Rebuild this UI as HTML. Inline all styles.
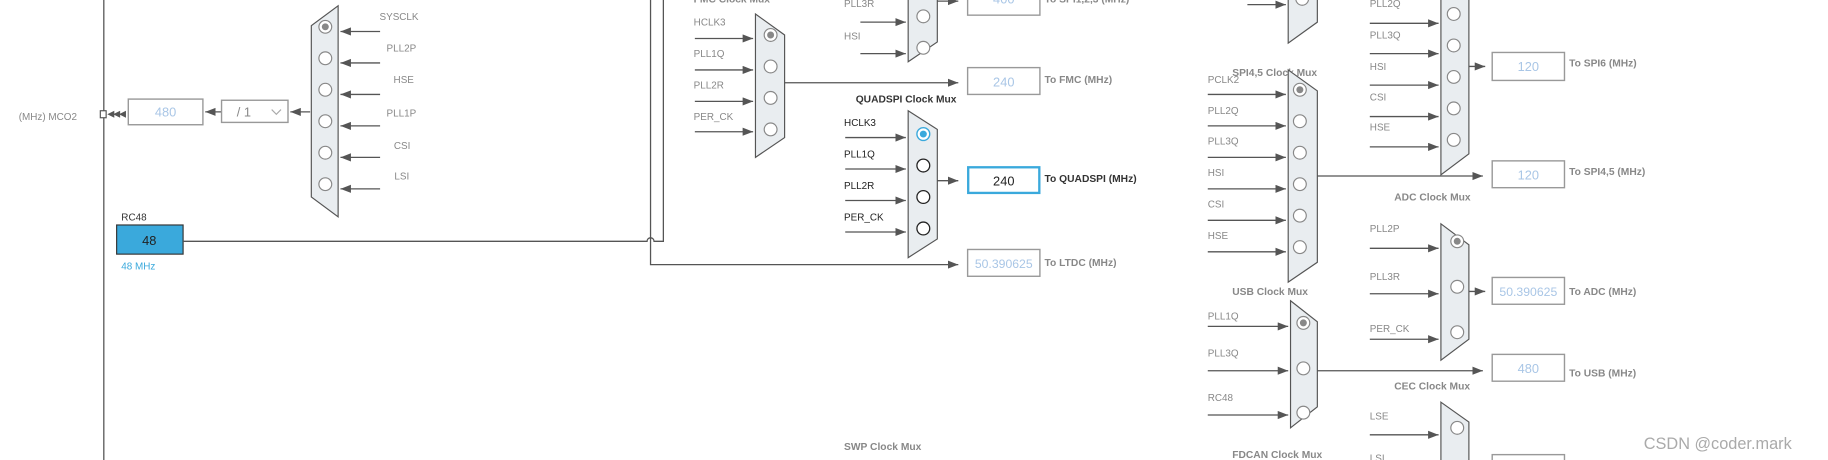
<!DOCTYPE html>
<html><head><meta charset="utf-8"><style>
html,body{margin:0;padding:0;background:#fff;overflow:hidden}
svg{display:block}
.l{font-family:"Liberation Sans",sans-serif;font-size:8.5px;fill:#888}
.d{font-family:"Liberation Sans",sans-serif;font-size:8.5px;fill:#222}
.t{font-family:"Liberation Sans",sans-serif;font-size:8.8px;font-weight:bold;fill:#888}
.td{font-family:"Liberation Sans",sans-serif;font-size:8.8px;font-weight:bold;fill:#333}
.v{font-family:"Liberation Sans",sans-serif;font-size:11px;fill:#a9c6e6}
.ln{stroke:#555;stroke-width:1.1;fill:none}
.mx{fill:#e9edf0;stroke:#555;stroke-width:1}
.c{fill:#fff;stroke:#888;stroke-width:1}
.cd{fill:#fff;stroke:#222;stroke-width:1.1}
.bx{fill:#fff;stroke:#999;stroke-width:1.2}
</style></head><body>
<svg width="1828" height="460" viewBox="0 0 1568 394.6" xmlns="http://www.w3.org/2000/svg">
<defs><marker id="a" markerUnits="userSpaceOnUse" markerWidth="10" markerHeight="8" refX="9" refY="3.5" orient="auto"><path d="M0,0L9,3.5L0,7z" fill="#555"/></marker></defs>

<line class="ln" x1="89" y1="0" x2="89" y2="395"/>
<text class="l" x="16" y="103">(MHz) MCO2</text>
<rect x="86" y="95" width="5" height="6" fill="#fff" stroke="#555"/>
<path d="M92,98L98,95V101zM97,98L103,95V101zM102,98L108,95V101z" fill="#555"/>
<rect class="bx" x="110" y="85" width="64" height="22"/>
<text class="v" x="142" y="100" text-anchor="middle">480</text>
<line class="ln" x1="190" y1="96" x2="176" y2="96" marker-end="url(#a)"/>
<rect class="bx" x="190" y="86" width="57" height="19"/>
<text class="l" x="203" y="100" style="font-size:11px">/ 1</text>
<path d="M233,94L237,98L241,94" stroke="#aaa" fill="none"/>
<line class="ln" x1="266" y1="96" x2="249" y2="96" marker-end="url(#a)"/>
<path class="mx" d="M290,5V186L267,169V22z"/>
<circle class="c" cx="279" cy="23" r="5.5"/><circle cx="279" cy="23" r="3" fill="#888"/>
<circle class="c" cx="279" cy="50" r="5.5"/><circle class="c" cx="279" cy="77" r="5.5"/>
<circle class="c" cx="279" cy="104" r="5.5"/><circle class="c" cx="279" cy="131" r="5.5"/>
<circle class="c" cx="279" cy="158" r="5.5"/>
<line class="ln" x1="326" y1="27" x2="292" y2="27" marker-end="url(#a)"/>
<line class="ln" x1="326" y1="54" x2="292" y2="54" marker-end="url(#a)"/>
<line class="ln" x1="326" y1="81" x2="292" y2="81" marker-end="url(#a)"/>
<line class="ln" x1="326" y1="108" x2="292" y2="108" marker-end="url(#a)"/>
<line class="ln" x1="326" y1="135" x2="292" y2="135" marker-end="url(#a)"/>
<line class="ln" x1="326" y1="162" x2="292" y2="162" marker-end="url(#a)"/>
<text class="l" x="359" y="17" text-anchor="end">SYSCLK</text>
<text class="l" x="357" y="44" text-anchor="end">PLL2P</text>
<text class="l" x="355" y="71" text-anchor="end">HSE</text>
<text class="l" x="357" y="100" text-anchor="end">PLL1P</text>
<text class="l" x="352" y="128" text-anchor="end">CSI</text>
<text class="l" x="351" y="154" text-anchor="end">LSI</text>
<text class="d" x="104" y="189" style="fill:#333">RC48</text>
<rect x="100" y="193" width="57" height="25" fill="#3aa9dc" stroke="#333"/>
<text x="128" y="210" text-anchor="middle" style="font-family:'Liberation Sans',sans-serif;font-size:11px;fill:#222">48</text>
<text x="104" y="231" style="font-family:'Liberation Sans',sans-serif;font-size:8.5px;fill:#3aa9dc">48 MHz</text>
<path class="ln" d="M157,207H555A3,3 0 0 1 561,207H569V0"/>
<path class="ln" d="M558,0V227H822" marker-end="url(#a)"/>
<text class="t" x="595" y="2">FMC Clock Mux</text>
<path class="mx" d="M648,12L673,30V118L648,135z"/>
<circle class="c" cx="661" cy="30" r="5.5"/><circle cx="661" cy="30" r="3" fill="#888"/>
<circle class="c" cx="661" cy="57" r="5.5"/><circle class="c" cx="661" cy="84" r="5.5"/><circle class="c" cx="661" cy="111" r="5.5"/>
<line class="ln" x1="596" y1="33" x2="646" y2="33" marker-end="url(#a)"/>
<line class="ln" x1="596" y1="60" x2="646" y2="60" marker-end="url(#a)"/>
<line class="ln" x1="596" y1="87" x2="646" y2="87" marker-end="url(#a)"/>
<line class="ln" x1="596" y1="113" x2="646" y2="113" marker-end="url(#a)"/>
<text class="l" x="595" y="22">HCLK3</text><text class="l" x="595" y="49">PLL1Q</text>
<text class="l" x="595" y="76">PLL2R</text><text class="l" x="595" y="103">PER_CK</text>
<line class="ln" x1="673" y1="71" x2="822" y2="71" marker-end="url(#a)"/>
<rect class="bx" x="830" y="58" width="62" height="23"/>
<text class="v" x="861" y="74" text-anchor="middle">240</text>
<text class="t" x="896" y="71">To FMC (MHz)</text>
<path class="mx" d="M779,-10H804V36L779,53z"/>
<circle class="c" cx="792" cy="14" r="5.5"/><circle class="c" cx="792" cy="41" r="5.5"/>
<line class="ln" x1="738" y1="19" x2="777" y2="19" marker-end="url(#a)"/>
<line class="ln" x1="738" y1="46" x2="777" y2="46" marker-end="url(#a)"/>
<text class="l" x="724" y="6">PLL3R</text><text class="l" x="724" y="34">HSI</text>
<line class="ln" x1="804" y1="1" x2="822" y2="1" marker-end="url(#a)"/>
<rect class="bx" x="830" y="-10" width="62" height="23"/>
<text class="v" x="861" y="3" text-anchor="middle">400</text>
<text class="t" x="896" y="2">To SPI1,2,3 (MHz)</text>
<text class="td" x="734" y="88">QUADSPI Clock Mux</text>
<path class="mx" d="M779,95L804,111V205L779,221z"/>
<circle cx="792" cy="115" r="5.5" fill="#fff" stroke="#3aa9dc" stroke-width="1.2"/><circle cx="792" cy="115" r="3" fill="#3aa9dc"/>
<circle class="cd" cx="792" cy="142" r="5.5"/><circle class="cd" cx="792" cy="169" r="5.5"/><circle class="cd" cx="792" cy="196" r="5.5"/>
<line class="ln" x1="725" y1="118" x2="777" y2="118" marker-end="url(#a)"/>
<line class="ln" x1="725" y1="145" x2="777" y2="145" marker-end="url(#a)"/>
<line class="ln" x1="725" y1="172" x2="777" y2="172" marker-end="url(#a)"/>
<line class="ln" x1="725" y1="199" x2="777" y2="199" marker-end="url(#a)"/>
<text class="d" x="724" y="108">HCLK3</text><text class="d" x="724" y="135">PLL1Q</text>
<text class="d" x="724" y="162">PLL2R</text><text class="d" x="724" y="189">PER_CK</text>
<line class="ln" x1="804" y1="155" x2="822" y2="155" marker-end="url(#a)"/>
<rect x="830.5" y="143.5" width="61" height="22" fill="#fff" stroke="#3aa9dc" stroke-width="2"/>
<text x="861" y="159" text-anchor="middle" style="font-family:'Liberation Sans',sans-serif;font-size:11px;fill:#222">240</text>
<text class="td" x="896" y="156">To QUADSPI (MHz)</text>
<rect class="bx" x="830" y="214" width="62" height="23"/>
<text class="v" x="861" y="230" text-anchor="middle" style="font-size:10.5px">50.390625</text>
<text class="t" x="896" y="228">To LTDC (MHz)</text>
<text class="t" x="724" y="386">SWP Clock Mux</text>

<path class="mx" d="M1105,-10H1130V19L1105,37z"/>
<circle class="c" cx="1117" cy="-1" r="5.5"/>
<line class="ln" x1="1070" y1="4" x2="1103" y2="4" marker-end="url(#a)"/>
<text class="t" x="1057" y="65">SPI4,5 Clock Mux</text>
<path class="mx" d="M1105,60L1130,78V225L1105,242z"/>
<circle class="c" cx="1115" cy="77" r="5.5"/><circle cx="1115" cy="77" r="3" fill="#888"/>
<circle class="c" cx="1115" cy="104" r="5.5"/><circle class="c" cx="1115" cy="131" r="5.5"/>
<circle class="c" cx="1115" cy="158" r="5.5"/><circle class="c" cx="1115" cy="185" r="5.5"/><circle class="c" cx="1115" cy="212" r="5.5"/>
<line class="ln" x1="1036" y1="81" x2="1103" y2="81" marker-end="url(#a)"/>
<line class="ln" x1="1036" y1="108" x2="1103" y2="108" marker-end="url(#a)"/>
<line class="ln" x1="1036" y1="135" x2="1103" y2="135" marker-end="url(#a)"/>
<line class="ln" x1="1036" y1="162" x2="1103" y2="162" marker-end="url(#a)"/>
<line class="ln" x1="1036" y1="189" x2="1103" y2="189" marker-end="url(#a)"/>
<line class="ln" x1="1036" y1="216" x2="1103" y2="216" marker-end="url(#a)"/>
<text class="l" x="1036" y="71">PCLK2</text><text class="l" x="1036" y="98">PLL2Q</text>
<text class="l" x="1036" y="124">PLL3Q</text><text class="l" x="1036" y="151">HSI</text>
<text class="l" x="1036" y="178">CSI</text><text class="l" x="1036" y="205">HSE</text>
<line class="ln" x1="1130" y1="151" x2="1272" y2="151" marker-end="url(#a)"/>
<rect class="bx" x="1280" y="138" width="62" height="23"/>
<text class="v" x="1311" y="154" text-anchor="middle">120</text>
<text class="t" x="1346" y="150">To SPI4,5 (MHz)</text>
<text class="t" x="1057" y="253">USB Clock Mux</text>
<path class="mx" d="M1236,-10H1260V132L1236,150z"/>
<circle class="c" cx="1247" cy="12" r="5.5"/><circle class="c" cx="1247" cy="39" r="5.5"/>
<circle class="c" cx="1247" cy="66" r="5.5"/><circle class="c" cx="1247" cy="93" r="5.5"/><circle class="c" cx="1247" cy="120" r="5.5"/>
<line class="ln" x1="1175" y1="20" x2="1234" y2="20" marker-end="url(#a)"/>
<line class="ln" x1="1175" y1="46" x2="1234" y2="46" marker-end="url(#a)"/>
<line class="ln" x1="1175" y1="73" x2="1234" y2="73" marker-end="url(#a)"/>
<line class="ln" x1="1175" y1="100" x2="1234" y2="100" marker-end="url(#a)"/>
<line class="ln" x1="1175" y1="126" x2="1234" y2="126" marker-end="url(#a)"/>
<text class="l" x="1175" y="6">PLL2Q</text><text class="l" x="1175" y="33">PLL3Q</text>
<text class="l" x="1175" y="60">HSI</text><text class="l" x="1175" y="86">CSI</text><text class="l" x="1175" y="112">HSE</text>
<line class="ln" x1="1260" y1="57" x2="1274" y2="57" marker-end="url(#a)"/>
<rect class="bx" x="1280" y="45" width="62" height="24"/>
<text class="v" x="1311" y="61" text-anchor="middle">120</text>
<text class="t" x="1346" y="57">To SPI6 (MHz)</text>
<text class="t" x="1196" y="172">ADC Clock Mux</text>
<path class="mx" d="M1236,192L1260,210V291L1236,309z"/>
<circle class="c" cx="1250" cy="207" r="5.5"/><circle cx="1250" cy="207" r="3" fill="#888"/>
<circle class="c" cx="1250" cy="246" r="5.5"/><circle class="c" cx="1250" cy="285" r="5.5"/>
<line class="ln" x1="1175" y1="213" x2="1234" y2="213" marker-end="url(#a)"/>
<line class="ln" x1="1175" y1="252" x2="1234" y2="252" marker-end="url(#a)"/>
<line class="ln" x1="1175" y1="291" x2="1234" y2="291" marker-end="url(#a)"/>
<text class="l" x="1175" y="199">PLL2P</text><text class="l" x="1175" y="240">PLL3R</text><text class="l" x="1175" y="285">PER_CK</text>
<line class="ln" x1="1260" y1="250" x2="1274" y2="250" marker-end="url(#a)"/>
<rect class="bx" x="1280" y="238" width="62" height="23"/>
<text class="v" x="1311" y="254" text-anchor="middle" style="font-size:10.5px">50.390625</text>
<text class="t" x="1346" y="253">To ADC (MHz)</text>
<text class="t" x="1196" y="334">CEC Clock Mux</text>
<path class="mx" d="M1107,258L1130,276V349L1107,367z"/>
<circle class="c" cx="1118" cy="277" r="5.5"/><circle cx="1118" cy="277" r="3" fill="#888"/>
<circle class="c" cx="1118" cy="316" r="5.5"/><circle class="c" cx="1118" cy="354" r="5.5"/>
<line class="ln" x1="1036" y1="280" x2="1105" y2="280" marker-end="url(#a)"/>
<line class="ln" x1="1036" y1="318" x2="1105" y2="318" marker-end="url(#a)"/>
<line class="ln" x1="1036" y1="356" x2="1105" y2="356" marker-end="url(#a)"/>
<text class="l" x="1036" y="274">PLL1Q</text><text class="l" x="1036" y="306">PLL3Q</text><text class="l" x="1036" y="344">RC48</text>
<line class="ln" x1="1130" y1="318" x2="1272" y2="318" marker-end="url(#a)"/>
<rect class="bx" x="1280" y="304" width="62" height="23"/>
<text class="v" x="1311" y="320" text-anchor="middle">480</text>
<text class="t" x="1346" y="323">To USB (MHz)</text>
<text class="t" x="1057" y="393">FDCAN Clock Mux</text>
<path class="mx" d="M1236,345L1260,362V400H1236z"/>
<circle class="c" cx="1250" cy="367" r="5.5"/>
<line class="ln" x1="1175" y1="373" x2="1234" y2="373" marker-end="url(#a)"/>
<text class="l" x="1175" y="360">LSE</text><text class="l" x="1175" y="396">LSI</text>
<rect class="bx" x="1280" y="390" width="62" height="23"/>
<text x="1410" y="385" style="font-family:'Liberation Sans',sans-serif;font-size:14px;fill:#aaa">CSDN @coder.mark</text>
</svg>
</body></html>
